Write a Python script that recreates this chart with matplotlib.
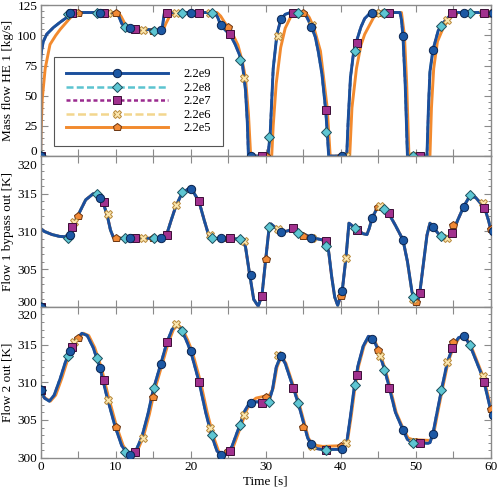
import matplotlib
matplotlib.use('Agg')
import matplotlib.pyplot as plt
from matplotlib.lines import Line2D
from matplotlib.ticker import MultipleLocator
from matplotlib.transforms import ScaledTranslation

plt.rcParams['font.family'] = ['Liberation Serif', 'DejaVu Serif']
plt.rcParams['font.size'] = 9.5

# ---- curves ----
# panel 1: mass flow HE 1, fast cases (2.2e9 .. 2.2e6 coincide)
t_mass = [0, 0, 0.1, 0.35, 0.8, 1.7, 2.6, 3.5, 4.5, 10.0,
          10.4, 10.8, 11.2, 11.9, 16.1, 16.25, 16.4, 16.5, 23.2, 23.6,
          24.0, 24.6, 25.2, 25.9, 26.5, 26.9, 27.3, 27.55, 27.7, 30.3,
          30.6, 31.0, 31.5, 32.0, 32.6, 33.3, 35.0, 35.5, 36.1, 36.6,
          37.0, 37.5, 38.0, 38.2, 38.4, 40.8, 41.0, 41.3, 41.7, 42.2,
          42.7, 43.2, 44.0, 47.9, 48.1, 48.3, 48.6, 48.9, 51.5, 51.7,
          51.9, 52.3, 53.0, 53.6, 54.6, 55.5, 60]
mass = [0, 80, 87, 95, 101, 106.6, 111, 115, 119, 119,
        116, 110, 106.5, 105.8, 104.2, 108, 115, 119, 119, 115,
        108.7, 104.5, 101, 93, 84, 76, 55, 28, 0, 0,
        18.6, 72.6, 101, 113, 117.5, 119, 119, 115, 107, 99,
        87, 68, 38, 20, 0, 0, 30, 65, 85, 97,
        107, 114, 119, 119, 113, 99.6, 60, 0, 0, 40,
        70, 88, 104, 110, 116.7, 119, 119]
# slow case 2.2e5 lags behind
t_mass_slow = [0, 0.05, 0.2, 0.6, 1.24, 2.0, 2.6, 3.3, 4.0, 5.1,
               10.3, 10.7, 11.2, 11.7, 12.3, 16.3, 16.7, 17.2, 17.8, 23.5,
               24.0, 24.5, 25.0, 25.6, 26.3, 26.9, 27.3, 27.7, 28.0, 30.8,
               31.0, 31.4, 32.0, 32.6, 33.3, 34.0, 35.3, 35.8, 36.4, 37.3,
               38.2, 38.6, 41.2, 41.5, 42.1, 42.7, 43.2, 44.4, 45.1, 48.1,
               48.5, 48.8, 49.1, 51.9, 52.1, 52.4, 52.9, 53.7, 54.5, 55.5, 60]
mass_slow = [0, 20, 47, 72.6, 92.5, 100, 105, 110, 115, 119,
             119, 116, 110, 106.5, 105.5, 104, 110, 116, 119, 119,
             116, 111, 106.5, 101, 92, 78, 65, 35, 0, 0,
             25, 60, 90, 106, 115, 119, 119, 115, 107, 87,
             40, 0, 0, 40, 72.6, 92, 101, 115, 119, 119,
             100, 60, 0, 0, 40, 72.6, 95, 106.7, 114, 119, 119]

# panel 2: flow 1 bypass out
t_byp = [0, 0, 0.5, 1.5, 2.5, 3.2, 3.8, 4.3, 5.0, 6.0,
         7.0, 7.8, 8.4, 8.9, 9.3, 9.7, 10.5, 16.3, 16.8, 17.4,
         18.0, 18.8, 19.6, 20.2, 21.1, 21.8, 22.4, 22.8, 26.8, 27.3,
         27.8, 28.4, 29.0, 29.5, 30.0, 30.4, 30.7, 31.3, 32.1, 33.0,
         33.7, 34.5, 36.1, 37.5, 38.0, 38.4, 38.8, 39.2, 39.6, 40.2,
         40.7, 41.1, 41.5, 42.0, 43.0, 43.5, 43.8, 44.2, 44.8, 45.5,
         46.4, 47.3, 48.3, 48.9, 49.5, 50.1, 50.5, 51.0, 51.5, 51.9,
         52.3, 53.2, 54.1, 54.9, 55.6, 56.4, 57.2, 58.0, 59.2, 59.7, 60.0]
byp = [300, 310.4, 310.0, 309.6, 309.35, 309.3, 309.6, 310.6, 312.2, 314.2,
       315.0, 314.5, 313.6, 312.0, 310.2, 309.2, 309.1, 309.1, 309.6, 311.5,
       313.3, 315.0, 315.6, 315.5, 314.0, 311.5, 309.5, 309.1, 309.0, 308.0,
       304.7, 301.0, 300.1, 301.5, 306.3, 310.0, 311.0, 310.5, 309.9, 310.1,
       310.4, 309.9, 309.2, 308.9, 308.6, 307.3, 304.0, 301.3, 300.2, 302.1,
       306.5, 311.1, 310.8, 310.3, 309.7, 309.6, 310.4, 311.8, 313.0, 313.3,
       312.4, 310.8, 308.9, 306.0, 302.0, 300.4, 301.5, 305.5, 309.5, 311.1,
       310.6, 309.5, 309.1, 309.8, 311.5, 313.3, 314.7, 314.5, 313.1, 311.5, 310.3]

# panel 3: flow 2 out
t_out2 = [0, 0.5, 1.15, 1.8, 2.6, 3.3, 3.9, 4.6, 5.5, 6.2,
          7.0, 7.9, 8.8, 9.9, 10.8, 11.7, 12.6, 13.5, 14.3, 15.0,
          16.0, 16.8, 17.5, 18.1, 18.7, 19.4, 20.0, 21.1, 22.0, 22.8,
          23.5, 24.1, 24.8, 25.5, 26.5, 27.2, 27.8, 28.5, 30.4, 30.9,
          31.4, 32.0, 32.6, 33.7, 34.4, 35.0, 35.6, 36.1, 36.8, 37.5,
          40.3, 40.8, 41.3, 41.8, 42.3, 43.0, 43.7, 44.3, 45.0, 45.9,
          46.5, 47.3, 48.3, 48.9, 49.5, 51.6, 51.9, 52.3, 52.8, 53.5,
          54.2, 54.9, 55.7, 56.4, 57.2, 58.0, 59.0, 59.6, 60.0]
out2 = [309.0, 307.9, 307.5, 308.3, 310.5, 312.7, 314.2, 315.6, 316.5, 316.2,
        314.6, 311.9, 308.2, 304.2, 301.6, 300.3, 300.7, 302.8, 305.8, 309.0,
        312.4, 315.2, 317.0, 317.6, 317.1, 315.6, 314.1, 310.1, 306.0, 302.9,
        300.9, 300.3, 300.5, 301.5, 304.2, 306.2, 307.2, 307.4, 307.4, 309.0,
        312.0, 313.5, 312.5, 309.2, 307.0, 304.8, 302.6, 301.8, 301.2, 301.1,
        301.1, 302.0, 305.5, 309.3, 312.2, 314.8, 316.1, 315.8, 314.3, 311.5,
        309.2, 306.0, 303.7, 302.4, 302.1, 301.9, 302.0, 303.2, 305.8, 309.3,
        312.6, 314.6, 315.9, 316.2, 315.0, 313.0, 310.5, 308.0, 306.3]
t_out2_slow = [0, 0.6, 1.3, 2.0, 2.8, 3.5, 4.1, 4.8, 5.7, 6.4,
               7.2, 8.1, 9.0, 10.1, 11.0, 11.9, 12.8, 13.7, 14.5, 15.2,
               16.2, 17.0, 17.7, 18.3, 18.9, 19.6, 20.2, 21.3, 22.2, 23.0,
               23.7, 24.3, 25.0, 25.7, 26.7, 27.4, 28.0, 28.7, 30.5, 31.0,
               31.5, 32.1, 32.7, 33.8, 34.5, 35.1, 35.7, 36.2, 36.9, 37.6,
               40.4, 40.9, 41.4, 41.9, 42.4, 43.1, 43.8, 44.4, 45.1, 46.0,
               46.6, 47.4, 48.4, 49.0, 49.6, 51.7, 52.0, 52.4, 52.9, 53.6,
               54.3, 55.0, 55.8, 56.5, 57.3, 58.1, 59.1, 59.7, 60.0]
out2_slow = [309.0, 307.9, 307.5, 308.3, 310.5, 312.7, 314.2, 315.6, 316.5, 316.2,
             314.6, 311.9, 308.2, 304.2, 301.6, 300.3, 300.7, 302.8, 305.8, 309.0,
             312.4, 315.2, 317.0, 317.6, 317.1, 315.6, 314.1, 310.1, 306.0, 302.9,
             300.9, 300.3, 300.5, 301.5, 304.2, 306.2, 307.3, 307.9, 308.3, 309.2,
             312.0, 313.5, 312.5, 309.2, 307.0, 304.8, 302.6, 301.8, 301.6, 301.5,
             301.6, 302.2, 305.5, 309.3, 312.2, 314.8, 316.1, 315.8, 314.3, 311.5,
             309.2, 306.0, 303.7, 302.6, 302.4, 302.3, 302.3, 303.2, 305.8, 309.3,
             312.6, 314.6, 315.9, 316.2, 315.0, 313.0, 310.5, 308.0, 306.6]

# ---- marker samples per case ----
labels = ['2.2e9', '2.2e8', '2.2e7', '2.2e6', '2.2e5']

tk_e9 = [0, 3.9, 7.9, 11.9, 16.0, 20.0, 24.0, 28.0, 32.1, 36.1, 40.2, 44.2, 48.3, 52.3, 56.4, 60.3]
mass_e9 = [0, 119, 119, 105.8, 104.3, 119, 108.7, 0, 113.5, 107, 0, 119, 99.6, 88.3, 119, 119]
byp_e9 = [300, 309.6, 314.5, 309.1, 309.1, 315.6, 309.1, 304.2, 309.9, 309.2, 302.1, 311.8, 308.9, 310.6, 313.3, 310.0]
out2_e9 = [309.0, 314.1, 311.9, 300.3, 312.4, 314.1, 300.3, 307.2, 313.5, 301.8, 301.2, 315.8, 303.7, 303.2, 316.2, 305.7]

tk_e8 = [0, 3.6, 7.5, 11.3, 15.1, 18.9, 22.8, 26.6, 30.5, 34.3, 38.1, 41.9, 45.8, 49.6, 53.4, 57.2]
mass_e8 = [0, 118, 119, 107, 103.5, 119, 119, 80, 16, 119, 20, 87, 119, 0, 108, 119]
byp_e8 = [300, 309.2, 315.0, 309.1, 309.1, 315.2, 309.2, 309.0, 310.6, 309.8, 308.1, 310.4, 313.0, 301.3, 309.4, 314.8]
out2_e8 = [309.0, 313.5, 313.2, 300.8, 309.2, 316.8, 303.0, 304.3, 307.4, 307.2, 301.0, 309.7, 311.6, 302.0, 309.0, 315.0]

tk_e7 = [0, 4.2, 8.4, 12.6, 16.8, 21.1, 25.3, 29.5, 33.7, 38.0, 42.2, 46.4, 50.6, 54.9, 59.1]
mass_e7 = [0, 119, 119, 105.3, 119, 119, 101, 0, 119, 38, 94, 119, 0, 119, 119]
byp_e7 = [300, 310.6, 313.9, 309.1, 309.6, 314.0, 309.1, 301.5, 310.5, 308.7, 310.2, 312.4, 301.8, 309.8, 313.1]
out2_e7 = [309.0, 314.7, 310.3, 300.7, 315.3, 310.1, 300.9, 307.3, 309.2, 301.0, 311.0, 309.2, 302.0, 314.6, 310.0]

tk_e6 = [0, 4.5, 9.0, 13.6, 18.1, 22.6, 27.1, 31.6, 36.2, 40.7, 45.2, 49.7, 54.2, 59.0]
mass_e6 = [0, 119, 119, 104.5, 119, 119, 65, 99.6, 109, 0, 119, 0, 113, 119]
byp_e6 = [300, 311.3, 312.3, 309.1, 313.5, 309.5, 308.8, 310.3, 309.2, 306.5, 313.4, 301.0, 309.2, 313.8]
out2_e6 = [309.0, 315.4, 307.6, 302.6, 317.7, 303.9, 305.6, 313.6, 301.6, 302.0, 313.5, 302.1, 312.7, 310.8]

tk_e5 = [0, 5, 10, 15, 20, 25, 30, 35, 40, 45, 50, 55, 60]
mass_e5 = [0, 119, 119, 104, 119, 106.7, 0, 119, 0, 119, 0, 117.5, 119]
byp_e5 = [300, 312.1, 309.1, 309.1, 315.6, 309.1, 306.3, 309.4, 301.5, 313.2, 300.6, 310.8, 310.3]
out2_e5 = [309.0, 315.9, 304.1, 308.1, 314.2, 300.9, 308.1, 304.1, 301.6, 314.3, 302.1, 315.3, 306.4]

line_style = {
    '2.2e9': dict(color='#1b4f9c', ls='-', lw=2.1),
    '2.2e8': dict(color='#5cc4d0', ls=(0, (2.8, 1.3)), lw=1.8),
    '2.2e7': dict(color='#9a2a8e', ls=(0, (1.6, 1.1)), lw=1.8),
    '2.2e6': dict(color='#f3d68e', ls=(0, (3.2, 1.4)), lw=1.8),
    '2.2e5': dict(color='#f28a2e', ls='-', lw=2.1),
}
mark_style = {
    '2.2e9': dict(marker='o', ms=6, mfc='#1c58a4', mec='#0a2450', mew=0.7),
    '2.2e8': dict(marker='D', ms=4.8, mfc='#5ec6d3', mec='#1d4e5c', mew=0.7),
    '2.2e7': dict(marker='s', ms=5.4, mfc='#a1318e', mec='#3c0d36', mew=0.7),
    '2.2e6': dict(marker='X', ms=6, mfc='#fbe6ae', mec='#b8893a', mew=0.7),
    '2.2e5': dict(marker='p', ms=6.2, mfc='#f28a36', mec='#6b3510', mew=0.7),
}

panels = [
    dict(curves={'fast': (t_mass, mass), 'slow': (t_mass_slow, mass_slow)},
         marks={'2.2e9': mass_e9, '2.2e8': mass_e8, '2.2e7': mass_e7, '2.2e6': mass_e6, '2.2e5': mass_e5},
         ylim=(0, 125), major=25, minor=5, ylabel='Mass flow HE 1 [kg/s]'),
    dict(curves={'fast': (t_byp, byp), 'slow': (t_byp, byp)},
         marks={'2.2e9': byp_e9, '2.2e8': byp_e8, '2.2e7': byp_e7, '2.2e6': byp_e6, '2.2e5': byp_e5},
         ylim=(300, 320), major=5, minor=1, ylabel='Flow 1 bypass out [K]'),
    dict(curves={'fast': (t_out2, out2), 'slow': (t_out2_slow, out2_slow)},
         marks={'2.2e9': out2_e9, '2.2e8': out2_e8, '2.2e7': out2_e7, '2.2e6': out2_e6, '2.2e5': out2_e5},
         ylim=(300, 320), major=5, minor=1, ylabel='Flow 2 out [K]'),
]
mark_times = {'2.2e9': tk_e9, '2.2e8': tk_e8, '2.2e7': tk_e7, '2.2e6': tk_e6, '2.2e5': tk_e5}

fig = plt.figure(figsize=(5, 4.93), dpi=100)
left, width, h = 0.0814, 0.9, 0.3059
bottoms = [0.6834, 0.3775, 0.0716]
spine_col = '#8a8a8a'

axes = []
for i, p in enumerate(panels):
    ax = fig.add_axes([left, bottoms[i], width, h])
    axes.append(ax)
    # draw slowest first so the fast case sits on top
    for lab in labels[::-1]:
        key = 'slow' if lab == '2.2e5' else 'fast'
        tt, vv = p['curves'][key]
        ax.plot(tt, vv, solid_capstyle='butt', **line_style[lab])
    for lab in labels[::-1]:
        ax.plot(mark_times[lab], p['marks'][lab], ls='none', zorder=3, **mark_style[lab])
    ax.set_xlim(0, 60)
    ax.set_ylim(*p['ylim'])
    ax.xaxis.set_major_locator(MultipleLocator(10))
    ax.xaxis.set_minor_locator(MultipleLocator(5))
    ax.yaxis.set_major_locator(MultipleLocator(p['major']))
    ax.yaxis.set_minor_locator(MultipleLocator(p['minor']))
    ax.tick_params(which='both', direction='in', top=True, right=True,
                   color=spine_col, labelcolor='black', labelsize=9.5, pad=2.5)
    ax.tick_params(which='major', length=5, width=0.8)
    ax.tick_params(axis='y', which='minor', length=2.5, width=0.7)
    ax.tick_params(axis='x', which='minor', length=5, width=0.8)
    for s in ax.spines.values():
        s.set_color(spine_col)
        s.set_linewidth(1.0)
    ax.set_ylabel(p['ylabel'], fontsize=9.5)
    ax.yaxis.set_label_coords(-0.06, 0.5)
    if i < 2:
        ax.tick_params(labelbottom=False)

axes[2].set_xlabel('Time [s]', fontsize=9.5, labelpad=2)

handles = [Line2D([], [], **line_style[lab], **mark_style[lab]) for lab in labels]
leg = axes[0].legend(handles, labels, loc='upper left', bbox_to_anchor=(0.0296, 0.66),
                     borderaxespad=0, fontsize=9, handlelength=8.2, handletextpad=1.2,
                     borderpad=0.95, labelspacing=0.12, frameon=True, fancybox=False)
leg.get_frame().set_edgecolor('#555555')
leg.get_frame().set_linewidth(0.8)
leg.get_frame().set_alpha(1)

# where two panels meet, push the end labels apart
fig.canvas.draw()
down = ScaledTranslation(0, -2.5 / 72, fig.dpi_scale_trans)
up = ScaledTranslation(0, 1.0 / 72, fig.dpi_scale_trans)
for i, ax in enumerate(axes):
    for lbl in ax.get_yticklabels():
        txt = lbl.get_text()
        if i > 0 and txt == '320':
            lbl.set_va('top')
            lbl.set_transform(lbl.get_transform() + down)
        if i < 2 and txt in ('0', '300'):
            lbl.set_va('baseline')
            lbl.set_transform(lbl.get_transform() + up)

fig.savefig('out.png', dpi=100)
